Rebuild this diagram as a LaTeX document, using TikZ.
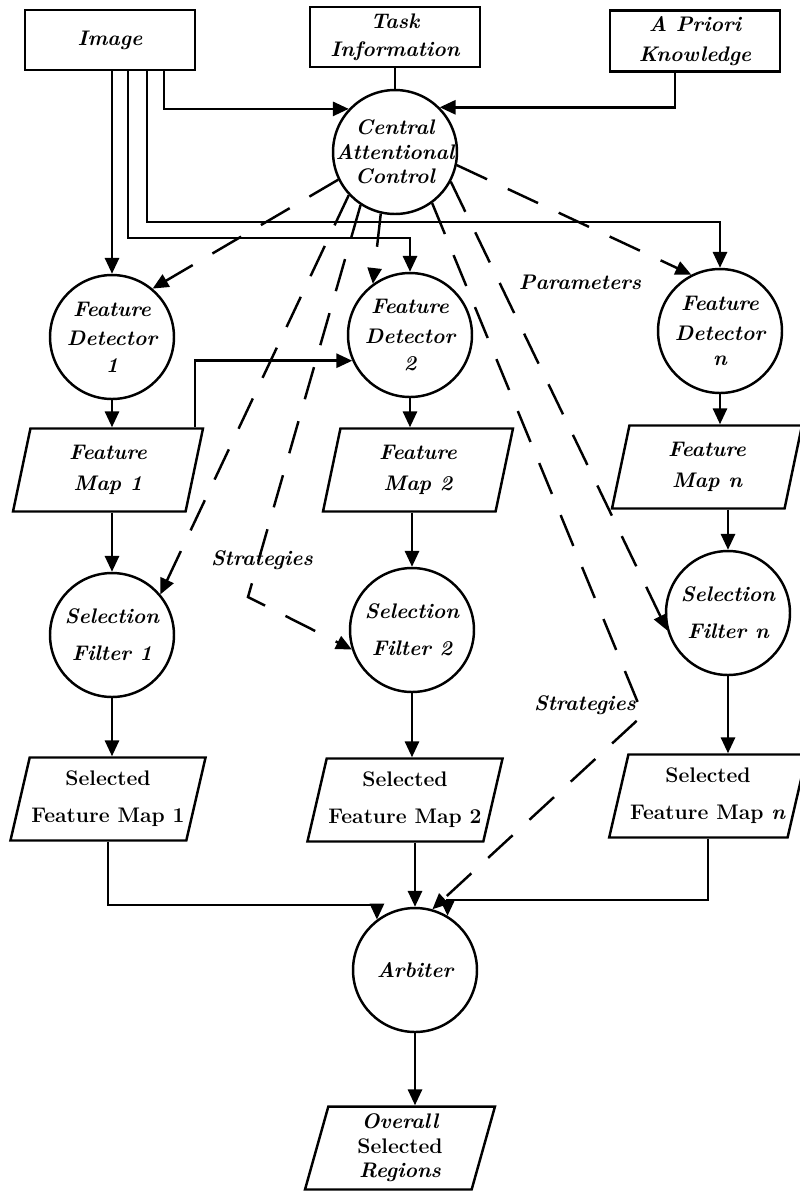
\documentclass[tikz,border=0pt]{standalone}
\usepackage{tikz}
\usetikzlibrary{calc,shapes.geometric,arrows.meta}
\tikzset{src/.style={draw, line width=1.4pt, rectangle, minimum width=3.4cm, minimum height=1.2cm, align=center, font=\large\bfseries\itshape}, proc/.style={draw, line width=1.4pt, circle, minimum size=2.48cm, inner sep=0pt}, txt/.style={align=center, font=\large\bfseries\itshape}, fmap/.style={draw, line width=1.4pt, trapezium, trapezium left angle=72, trapezium right angle=108, trapezium stretches body, minimum width=3.8cm, minimum height=1.66cm, inner sep=1pt, align=center, font=\large\bfseries\itshape}, ctrl/.style={dash pattern=on 19pt off 13pt}}

\begin{document}
\begin{tikzpicture}[x=0.02cm, y=-0.02cm, line width=1.4pt, >={Triangle[length=9pt,width=8pt]}]
    \useasboundingbox (0,0) rectangle (799,1191);
    \node[src] (img) at (110,40) {Image};
    \node[src] (task) at (395,37) {Task\\[2pt]Information};
    \node[src] (prior) at (695,41) {A Priori\\[3pt]Knowledge};
    \node[proc, label={[txt]center:{Central\\Attentional\\Control}}] (cac) at (395,152) {};
    \node[proc, label={[txt]center:{Feature\\[3pt]Detector\\[1pt]1}}] (fd1) at (112,337) {};
    \node[proc, label={[txt]center:{Feature\\[3pt]Detector\\[1pt]2}}] (fd2) at (410,335) {};
    \node[proc, label={[txt]center:{Feature\\[3pt]Detector\\n}}] (fdn) at (720,331) {};
    \node[fmap] (fm1) at (108,470) {Feature\\[4pt]Map 1};
    \node[fmap] (fm2) at (418,470) {Feature\\[4pt]Map 2};
    \node[fmap] (fmn) at (707,467) {Feature\\[4pt]Map n};
    \node[proc, label={[txt]center:{Selection\\[7pt]Filter 1}}] (sf1) at (112,635) {};
    \node[proc, label={[txt]center:{Selection\\[7pt]Filter 2}}] (sf2) at (412,630) {};
    \node[proc, label={[txt]center:{Selection\\[7pt]Filter n}}] (sfn) at (728,613) {};
    \node[fmap, font=\large\bfseries] (sfm1) at (108,799) {Selected\\[7pt]Feature Map 1};
    \node[fmap, font=\large\bfseries] (sfm2) at (405,800) {Selected\\[7pt]Feature Map 2};
    \node[fmap, font=\large\bfseries] (sfmn) at (708,796) {Selected\\[7pt]Feature Map \textit{n}};
    \node[proc, label={[txt]center:Arbiter}] (arb) at (415,970) {};
    \node[fmap] (out) at (400,1148) {Overall\\\upshape Selected\\Regions};
    \node[txt] (par) at (580,282) {Parameters};
    \node[txt] (stratA) at (262,560) {Strategies};
    \node[txt] (stratB) at (585,705) {Strategies};
    \coordinate (busc) at (0,110);
    \coordinate (busn) at (0,222);
    \coordinate (bus2) at (0,238);
    \coordinate (busl) at (0,905);
    \coordinate (busr) at (0,900);
    \coordinate (bendA) at (248,597);
    \coordinate (bendB) at (643,715);
    \draw[->] (fd1.north |- img.south) -- (fd1.north);
    \draw[->] ($(fd1.north |- img.south)+(16,0)$) |- (bus2 -| fd2.north) -- (fd2.north);
    \draw[->] ($(fd1.north |- img.south)+(35,0)$) |- (busn -| fdn.north) -- (fdn.north);
    \draw[->] ($(fd1.north |- img.south)+(52,0)$) |- (cac.137);
    \draw (cac.north |- task.south) -- (cac.north);
    \draw[->] ($(prior.south)+(-20,0)$) |- (cac.45);
    \draw[->] ($(fm1.north)+(87,0)$) |- (fd2.204);
    \draw[->] (fd1.south) -- (fd1.south |- fm1.north);
    \draw[->] (fd2.south) -- (fd2.south |- fm2.north);
    \draw[->] (fdn.south) -- (fdn.south |- fmn.north);
    \draw[->] (sf1.north |- fm1.south) -- (sf1.north);
    \draw[->] (sf2.north |- fm2.south) -- (sf2.north);
    \draw[->] (sfn.north |- fmn.south) -- (sfn.north);
    \draw[->] (sf1.south) -- (sf1.south |- sfm1.north);
    \draw[->] (sf2.south) -- (sf2.south |- sfm2.north);
    \draw[->] (sfn.south) -- (sfn.south |- sfmn.north);
    \draw[->] (sfm1.south) |- (busl -| arb.127) -- (arb.127);
    \draw[->] (arb.north |- sfm2.south) -- (arb.north);
    \draw[->] (sfmn.south) |- (busr -| arb.59) -- (arb.59);
    \draw[->] (arb.south) -- (arb.south |- out.north);
    \draw[->, ctrl] (cac.206) -- (fd1.50);
    \draw[->, ctrl] (cac.257) -- (fd2.126);
    \draw[->, ctrl] (cac.348) -- (fdn.117);
    \draw[->, ctrl] (cac.223) -- (sf1.40);
    \draw[->, ctrl] (cac.237) -- (bendA) -- (sf2.198);
    \draw[->, ctrl] (cac.332) -- (sfn.196);
    \draw[->, ctrl] (cac.306) -- (bendB) -- (arb.74);
\end{tikzpicture}
\end{document}
